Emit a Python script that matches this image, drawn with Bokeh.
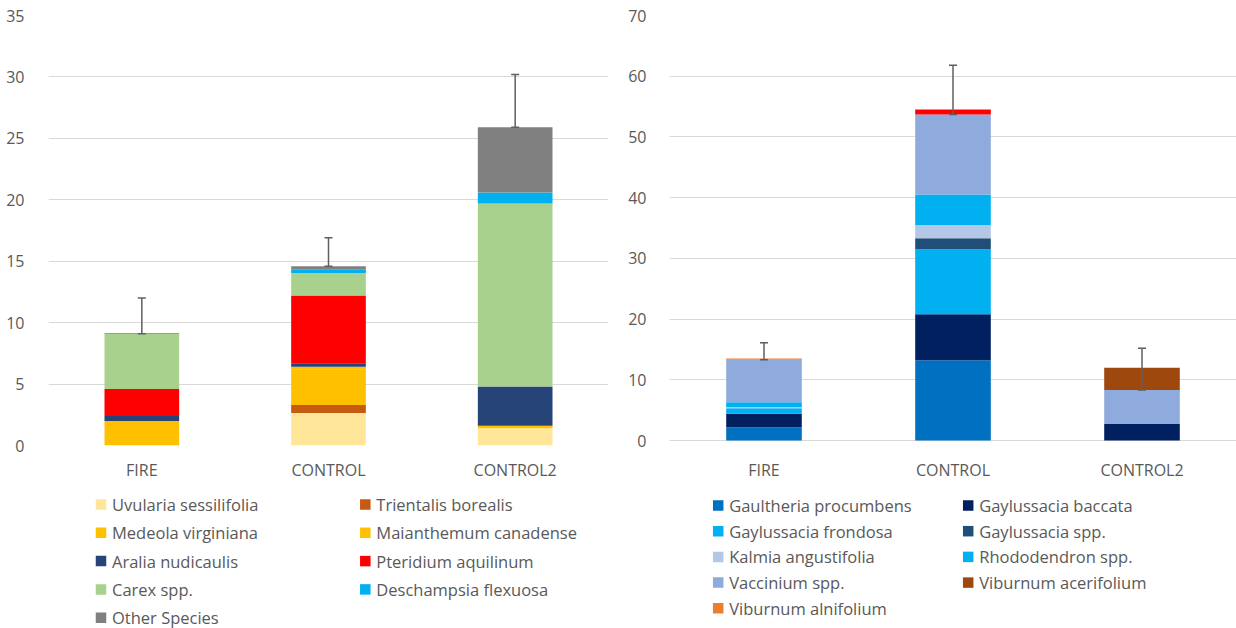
from bokeh.plotting import figure
from bokeh.models import (ColumnDataSource, FactorRange, Range1d, FixedTicker,
                          Whisker, TeeHead)
from bokeh.core.properties import value
from bokeh.layouts import row, column
from bokeh.embed import file_html
from bokeh.resources import INLINE

FONT = "Open Sans"
TXT = "#595959"
GRID = "#D9D9D9"

categories = ["FIRE", "CONTROL", "CONTROL2"]

# ---- left chart: herbaceous species ----
herb_names = ["Uvularia sessilifolia", "Trientalis borealis", "Medeola virginiana",
              "Maianthemum canadense", "Aralia nudicaulis", "Pteridium aquilinum",
              "Carex spp.", "Deschampsia flexuosa", "Other Species"]
herb_colors = ["#FFE699", "#C55A11", "#FFC000", "#FFC000", "#264478", "#FF0000",
               "#A9D18E", "#00B0F0", "#808080"]
uvularia = [0.0, 2.65, 1.4]
trientalis = [0.0, 0.65, 0.0]
medeola = [0.0, 2.9, 0.2]
maianthemum = [2.0, 0.2, 0.0]
aralia = [0.4, 0.3, 3.2]
pteridium = [2.2, 5.5, 0.0]
carex = [4.5, 1.85, 14.9]
deschampsia = [0.0, 0.25, 0.9]
other_species = [0.05, 0.3, 5.3]
herb_err_low = [9.1, 14.6, 25.9]
herb_err_high = [12.0, 16.9, 30.2]
herb_ticks = [0, 5, 10, 15, 20, 25, 30, 35]

# ---- right chart: shrub species ----
shrub_names = ["Gaultheria procumbens", "Gaylussacia baccata", "Gaylussacia frondosa",
               "Gaylussacia spp.", "Kalmia angustifolia", "Rhododendron spp.",
               "Vaccinium spp.", "Viburnum acerifolium", "Viburnum alnifolium"]
shrub_colors = ["#0070C0", "#002060", "#00B0F0", "#1F4E79", "#B4C7E7", "#00B0F0",
                "#8FAADC", "#9E480E", "#ED7D31"]
gaultheria = [2.2, 13.2, 0.0]
gay_baccata = [2.2, 7.6, 2.7]
gay_frondosa = [0.9, 10.7, 0.0]
gay_spp = [0.0, 1.8, 0.0]
kalmia = [0.2, 2.2, 0.0]
rhododendron = [0.8, 5.0, 0.0]
vaccinium = [7.0, 13.2, 5.6]
vib_acerifolium = [0.0, 0.0, 3.7]
vib_alnifolium = [0.2, 0.0, 0.0]
unlisted_red = [0.0, 0.8, 0.0]
shrub_err_low = [13.3, 53.7, 8.3]
shrub_err_high = [16.1, 61.8, 15.2]
shrub_ticks = [0, 10, 20, 30, 40, 50, 60, 70]

CHART_H = 485
LEG_H = 143


def chart(series, colors, extra, extra_color, err_lo, err_hi, ticks, yrange,
          width, mbl, mbr, ystand):
    data = {"cat": categories}
    keys = []
    for i, s in enumerate(series):
        data[f"s{i}"] = s
        keys.append(f"s{i}")
    all_colors = list(colors)
    if extra is not None:
        data["extra"] = extra
        keys.append("extra")
        all_colors.append(extra_color)
    src = ColumnDataSource(data)
    p = figure(x_range=FactorRange(*categories), y_range=Range1d(*yrange),
               width=width, height=CHART_H, output_backend="svg", toolbar_location=None,
               min_border_left=mbl, min_border_right=mbr, min_border_top=15,
               min_border_bottom=40)
    p.vbar_stack(keys, x="cat", width=0.4, color=all_colors, line_color=None, source=src)
    esrc = ColumnDataSource({"cat": categories, "lo": err_lo, "hi": err_hi})
    head = dict(size=8, line_color="#5F5F5F", line_width=1.5)
    p.add_layout(Whisker(base="cat", lower="lo", upper="hi", source=esrc,
                         line_color="#5F5F5F", line_width=1.5, level="overlay",
                         upper_head=TeeHead(**head), lower_head=TeeHead(**head)))
    p.outline_line_color = None
    p.xgrid.grid_line_color = None
    p.ygrid.grid_line_color = GRID
    p.ygrid.grid_line_width = 1
    p.yaxis.ticker = FixedTicker(ticks=ticks)
    for ax in (p.xaxis[0], p.yaxis[0]):
        ax.axis_line_color = None
        ax.major_tick_line_color = None
        ax.minor_tick_line_color = None
        ax.major_label_text_font = FONT
        ax.major_label_text_font_size = "16px"
        ax.major_label_text_color = TXT
    p.xaxis.major_label_standoff = 7
    p.yaxis.major_label_standoff = ystand
    return p


def legend_fig(names, colors, width, mbl, mbr, x0, col_pitch, y0, row_pitch):
    fw = width - mbl - mbr
    p = figure(x_range=Range1d(0, fw), y_range=Range1d(LEG_H, 0), width=width,
               height=LEG_H, output_backend="svg", toolbar_location=None,
               x_axis_type=None, y_axis_type=None, min_border_left=mbl,
               min_border_right=mbr, min_border_top=0, min_border_bottom=0)
    p.outline_line_color = None
    idx = list(range(len(names)))
    sx = [x0 + (i % 2) * col_pitch for i in idx]
    sy = [y0 + (i // 2) * row_pitch for i in idx]
    src = ColumnDataSource({"x": sx, "tx": [v + 11 for v in sx], "y": sy,
                            "name": names, "color": colors})
    p.scatter("x", "y", marker="square", size=10.5, color="color", line_color=None, source=src)
    p.text("tx", "y", text="name", source=src, text_font=value(FONT),
           text_font_size="16.5px", text_color=TXT, text_baseline="middle", text_align="left")
    return p


left_series = [uvularia, trientalis, medeola, maianthemum, aralia, pteridium,
               carex, deschampsia, other_species]
right_series = [gaultheria, gay_baccata, gay_frondosa, gay_spp, kalmia, rhododendron,
                vaccinium, vib_acerifolium, vib_alnifolium]

LW, LMBL, LMBR = 625, 48, 17
RW, RMBL, RMBR = 611, 44, 0

p1 = chart(left_series, herb_colors, None, None, herb_err_low, herb_err_high,
           herb_ticks, (0, 35), LW, LMBL, LMBR, 18)
p2 = chart(right_series, shrub_colors, unlisted_red, "#FF0000", shrub_err_low,
           shrub_err_high, shrub_ticks, (-0.8235, 70), RW, RMBL, RMBR, 17)

l1 = legend_fig(herb_names, herb_colors, LW, LMBL, LMBR, 52.5, 264.3, 19, 28.3)
l2 = legend_fig(shrub_names, shrub_colors, RW, RMBL, RMBR, 48.7, 250, 20, 25.7)

layout = row(column(p1, l1), column(p2, l2))
open("out.html", "w").write(file_html(layout, INLINE))
